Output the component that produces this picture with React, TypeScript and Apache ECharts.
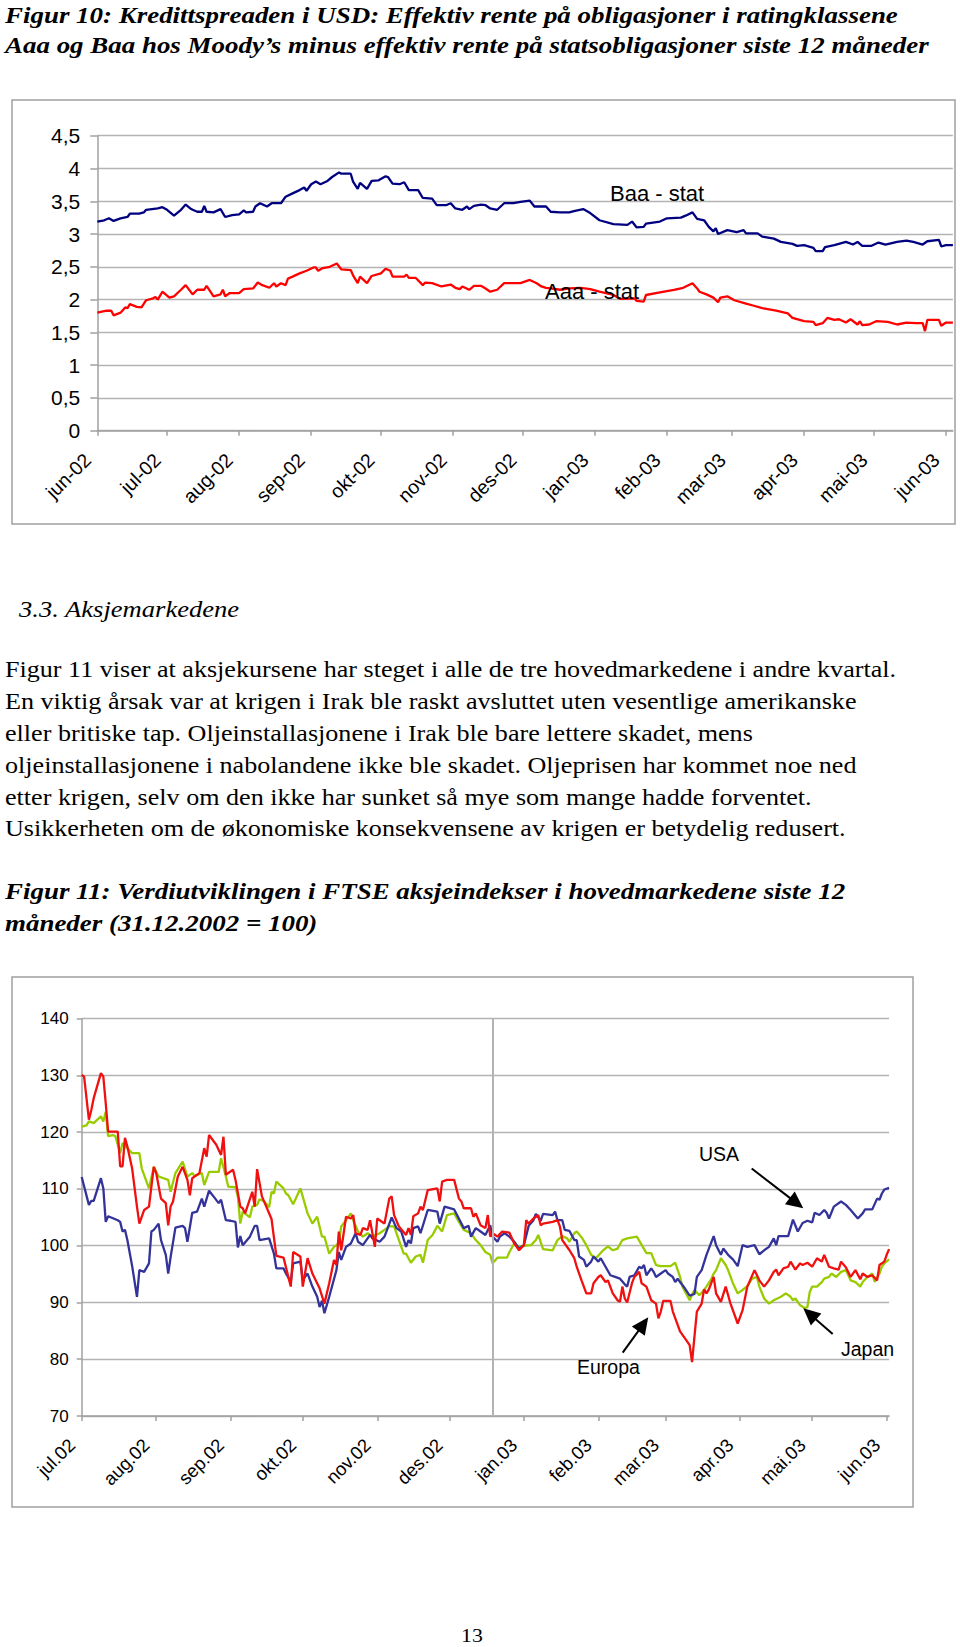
import React, { useEffect, useRef } from "react";
import * as echarts from "echarts";

// ---------- Figur 10: credit spreads (days since 2002-06-01, percentage points) ----------
const C1_START = "2002-06-01";
const C1_END = "2003-06-04";
const C1_MONTH_LABELS = ["jun-02", "jul-02", "aug-02", "sep-02", "okt-02", "nov-02", "des-02", "jan-03", "feb-03", "mar-03", "apr-03", "mai-03", "jun-03"];

const BAA_STAT: [number, number][] = [
  [0, 3.19], [3, 3.21], [5, 3.24], [7, 3.2], [10, 3.24], [13, 3.26], [14, 3.31], [18, 3.31], [20, 3.33], [21, 3.37], [26, 3.39], [28, 3.41], [30, 3.37], [33, 3.28], [36, 3.37], [38, 3.45], [40, 3.39], [41, 3.37], [43, 3.34], [45, 3.34], [46, 3.43], [47, 3.34], [50, 3.33], [53, 3.38], [55, 3.26], [58, 3.29], [61, 3.3], [63, 3.36], [64, 3.33], [67, 3.34], [68, 3.42], [70, 3.47], [73, 3.42], [75, 3.47], [79, 3.47], [81, 3.57], [84, 3.62], [87, 3.67], [89, 3.71], [90, 3.66], [92, 3.76], [94, 3.8], [96, 3.76], [99, 3.81], [101, 3.87], [104, 3.94], [105, 3.92], [109, 3.92], [110, 3.8], [112, 3.69], [113, 3.78], [116, 3.69], [118, 3.81], [121, 3.82], [124, 3.88], [125, 3.87], [127, 3.77], [130, 3.76], [132, 3.79], [134, 3.67], [138, 3.67], [140, 3.55], [144, 3.54], [146, 3.44], [150, 3.44], [152, 3.47], [154, 3.39], [157, 3.37], [159, 3.42], [160, 3.38], [162, 3.43], [165, 3.45], [167, 3.44], [169, 3.39], [172, 3.37], [175, 3.47], [179, 3.47], [182, 3.49], [186, 3.51], [188, 3.42], [193, 3.42], [195, 3.34], [199, 3.33], [203, 3.33], [205, 3.35], [209, 3.38], [212, 3.32], [216, 3.21], [222, 3.15], [228, 3.14], [230, 3.19], [232, 3.1], [235, 3.11], [236, 3.16], [242, 3.19], [245, 3.24], [251, 3.25], [253, 3.28], [256, 3.33], [258, 3.23], [261, 3.21], [263, 3.11], [265, 3.04], [266, 3.09], [267, 3.0], [271, 3.06], [275, 3.03], [278, 3.06], [279, 3.01], [284, 3.01], [286, 2.96], [291, 2.93], [294, 2.88], [299, 2.85], [301, 2.82], [304, 2.83], [308, 2.79], [309, 2.74], [312, 2.74], [313, 2.8], [317, 2.83], [322, 2.88], [325, 2.84], [327, 2.88], [329, 2.82], [333, 2.82], [336, 2.87], [339, 2.84], [344, 2.88], [348, 2.9], [351, 2.88], [355, 2.84], [357, 2.89], [362, 2.91], [363, 2.81], [365, 2.83], [368, 2.83],
];

const AAA_STAT: [number, number][] = [
  [0, 1.8], [4, 1.83], [6, 1.83], [7, 1.76], [10, 1.8], [12, 1.88], [13, 1.87], [14, 1.93], [17, 1.89], [19, 1.88], [21, 1.99], [24, 2.02], [25, 2.04], [26, 2.0], [28, 2.12], [31, 2.03], [33, 2.05], [36, 2.15], [38, 2.22], [41, 2.08], [43, 2.15], [46, 2.15], [47, 2.21], [50, 2.05], [53, 2.08], [54, 2.15], [55, 2.05], [57, 2.1], [61, 2.1], [63, 2.16], [67, 2.17], [69, 2.26], [71, 2.22], [74, 2.18], [76, 2.25], [77, 2.2], [79, 2.25], [81, 2.22], [82, 2.32], [84, 2.35], [87, 2.4], [90, 2.44], [93, 2.49], [94, 2.49], [95, 2.44], [97, 2.48], [100, 2.5], [103, 2.55], [105, 2.46], [109, 2.45], [110, 2.37], [112, 2.25], [113, 2.35], [116, 2.25], [118, 2.36], [122, 2.4], [124, 2.47], [126, 2.44], [127, 2.35], [132, 2.35], [133, 2.38], [134, 2.33], [137, 2.33], [140, 2.22], [141, 2.26], [144, 2.25], [148, 2.2], [152, 2.23], [154, 2.18], [156, 2.16], [157, 2.2], [160, 2.15], [162, 2.21], [165, 2.21], [167, 2.17], [169, 2.12], [172, 2.15], [175, 2.25], [179, 2.25], [182, 2.25], [186, 2.3], [189, 2.25], [191, 2.2], [193, 2.18], [195, 2.17], [199, 2.15], [203, 2.17], [208, 2.18], [212, 2.16], [216, 2.12], [222, 2.07], [225, 2.01], [231, 2.02], [232, 1.98], [235, 1.97], [236, 2.07], [242, 2.11], [248, 2.15], [252, 2.18], [256, 2.25], [258, 2.17], [259, 2.12], [262, 2.08], [265, 2.03], [267, 1.96], [268, 2.03], [271, 2.05], [274, 1.99], [279, 1.94], [282, 1.91], [286, 1.87], [292, 1.83], [297, 1.79], [299, 1.72], [304, 1.67], [308, 1.66], [309, 1.61], [312, 1.64], [314, 1.72], [317, 1.69], [319, 1.7], [322, 1.65], [324, 1.7], [327, 1.62], [328, 1.67], [329, 1.61], [332, 1.62], [335, 1.67], [340, 1.66], [344, 1.62], [348, 1.65], [352, 1.64], [355, 1.64], [356, 1.52], [357, 1.69], [362, 1.69], [363, 1.6], [365, 1.65], [368, 1.65],
];

// ---------- Figur 11: FTSE indices (days since 2002-07-01, 31.12.2002 = 100) ----------
const C2_START = "2002-07-01";
const C2_END = "2003-06-02";
const C2_MONTH_LABELS = ["jul.02", "aug.02", "sep.02", "okt.02", "nov.02", "des.02", "jan.03", "feb.03", "mar.03", "apr.03", "mai.03", "jun.03"];
const C2_REFERENCE_LINE_DATE = "2002-12-19";

const USA: [number, number][] = [
  [0, 112.1], [3, 107.2], [4, 107.9], [5, 107.9], [8, 111.9], [9, 110.1], [10, 104.2], [11, 105.2], [15, 104.5], [16, 104.2], [17, 102.5], [18, 102.8], [19, 101.0], [21, 96.4], [23, 91.0], [24, 95.7], [26, 95.4], [28, 96.9], [29, 102.5], [30, 102.8], [32, 103.9], [33, 101.0], [35, 98.4], [36, 95.1], [37, 98.0], [39, 103.2], [42, 103.5], [43, 103.1], [44, 100.7], [46, 105.8], [48, 106.0], [50, 108.3], [51, 106.9], [53, 109.7], [55, 108.6], [57, 107.5], [58, 108.1], [60, 104.5], [62, 104.4], [64, 104.2], [65, 99.7], [66, 101.7], [67, 100.1], [70, 101.6], [72, 103.5], [73, 103.5], [74, 101.0], [78, 101.3], [80, 98.6], [81, 96.0], [84, 96.0], [85, 95.1], [87, 93.6], [88, 96.9], [91, 97.2], [92, 94.0], [94, 95.1], [96, 92.8], [98, 91.0], [99, 89.2], [100, 90.3], [101, 88.1], [103, 91.0], [106, 95.7], [107, 98.9], [108, 97.5], [110, 99.8], [112, 100.4], [114, 102.2], [115, 100.7], [117, 100.1], [120, 101.9], [121, 101.3], [124, 100.7], [126, 101.6], [127, 102.7], [129, 105.0], [131, 103.1], [133, 102.5], [135, 99.8], [136, 101.0], [137, 100.4], [138, 103.1], [140, 103.4], [141, 102.2], [144, 106.3], [148, 106.0], [149, 103.9], [151, 106.9], [155, 106.4], [159, 103.1], [161, 103.5], [162, 101.6], [164, 103.1], [166, 102.5], [168, 101.9], [170, 103.6], [171, 101.6], [173, 100.7], [174, 101.6], [176, 102.2], [178, 101.6], [180, 100.7], [182, 99.5], [184, 100.1], [186, 103.5], [188, 104.5], [189, 105.6], [191, 104.4], [192, 105.6], [196, 105.4], [197, 106.0], [198, 104.5], [200, 104.5], [201, 102.8], [203, 102.6], [205, 101.0], [206, 101.0], [207, 98.1], [209, 97.5], [210, 96.3], [212, 97.2], [213, 98.1], [215, 97.2], [216, 97.8], [218, 96.3], [220, 94.8], [222, 94.5], [224, 94.2], [226, 93.2], [227, 92.8], [228, 94.5], [230, 94.8], [232, 96.3], [233, 96.0], [234, 96.6], [235, 94.8], [237, 96.0], [238, 95.4], [239, 94.5], [241, 95.1], [243, 95.7], [244, 95.1], [246, 94.5], [247, 93.6], [248, 94.2], [249, 93.6], [251, 92.5], [253, 91.2], [255, 91.5], [256, 94.5], [258, 95.7], [260, 98.4], [261, 99.5], [263, 101.7], [264, 100.1], [266, 98.4], [267, 99.5], [269, 98.4], [271, 97.6], [273, 96.4], [275, 100.1], [277, 99.8], [280, 100.1], [282, 98.5], [284, 99.2], [286, 99.8], [288, 101.3], [289, 100.1], [290, 101.7], [294, 101.7], [296, 104.6], [298, 102.5], [300, 104.0], [302, 104.4], [304, 104.1], [305, 105.8], [307, 105.4], [309, 106.3], [310, 105.8], [311, 104.8], [313, 106.9], [316, 107.8], [318, 107.2], [320, 106.3], [323, 104.8], [325, 105.7], [326, 106.4], [329, 106.4], [331, 108.3], [332, 108.1], [333, 109.2], [334, 109.9], [336, 110.2],
];

const EUROPA: [number, number][] = [
  [0, 130.1], [1, 129.8], [3, 122.2], [4, 123.9], [5, 126.0], [8, 130.4], [9, 129.8], [10, 125.1], [11, 120.1], [15, 120.1], [16, 114.0], [17, 114.0], [18, 119.0], [19, 117.5], [21, 113.6], [23, 106.9], [24, 103.9], [26, 106.3], [28, 106.9], [30, 113.9], [31, 112.8], [33, 108.3], [35, 107.5], [36, 103.6], [37, 106.9], [38, 107.8], [40, 112.2], [42, 113.9], [44, 111.6], [45, 108.9], [46, 111.9], [49, 112.8], [51, 117.2], [52, 115.7], [53, 119.5], [56, 117.8], [58, 116.0], [59, 119.2], [60, 112.5], [63, 113.4], [64, 111.6], [66, 106.9], [67, 106.6], [68, 105.7], [71, 109.5], [72, 106.9], [73, 113.5], [75, 108.7], [79, 104.7], [81, 98.2], [84, 97.9], [87, 92.8], [88, 98.9], [91, 98.1], [92, 92.8], [94, 97.8], [96, 95.1], [99, 92.5], [101, 89.8], [103, 93.4], [105, 97.5], [106, 96.6], [107, 102.5], [108, 99.2], [110, 105.1], [112, 104.8], [113, 105.4], [114, 102.2], [116, 101.9], [117, 103.1], [119, 102.8], [120, 104.5], [122, 99.8], [123, 104.8], [126, 103.9], [128, 108.3], [129, 108.7], [130, 105.4], [132, 103.4], [135, 101.9], [136, 103.1], [137, 101.9], [138, 105.2], [140, 105.7], [141, 106.9], [142, 106.3], [144, 109.8], [148, 110.1], [149, 107.8], [150, 111.3], [152, 111.6], [155, 111.6], [157, 108.3], [158, 107.8], [159, 106.6], [162, 106.6], [163, 105.1], [164, 105.7], [166, 103.6], [168, 103.1], [169, 105.4], [170, 101.6], [171, 102.2], [173, 101.6], [175, 102.5], [178, 102.3], [180, 100.4], [182, 99.2], [184, 100.1], [185, 104.5], [186, 103.9], [188, 104.8], [190, 105.4], [191, 103.6], [192, 103.9], [196, 104.2], [198, 104.5], [199, 103.4], [200, 101.0], [203, 99.2], [205, 97.8], [206, 96.3], [208, 93.9], [210, 91.6], [212, 91.6], [213, 93.4], [215, 94.5], [216, 94.8], [218, 93.6], [219, 93.9], [221, 91.6], [223, 90.4], [224, 90.1], [225, 92.8], [226, 90.7], [227, 90.0], [229, 93.4], [230, 94.5], [232, 95.4], [233, 93.4], [235, 92.8], [237, 90.4], [239, 89.8], [240, 87.2], [241, 88.4], [242, 90.3], [245, 90.3], [246, 88.4], [249, 84.9], [252, 83.1], [253, 82.5], [254, 79.5], [255, 84.0], [256, 88.4], [258, 89.8], [259, 92.3], [260, 91.6], [261, 92.3], [263, 94.5], [264, 91.6], [266, 90.1], [268, 92.8], [270, 89.8], [273, 86.3], [275, 88.6], [277, 92.8], [280, 95.7], [282, 93.9], [284, 92.8], [286, 93.9], [288, 95.4], [289, 95.8], [290, 94.8], [292, 96.0], [294, 96.3], [295, 97.2], [297, 95.8], [299, 96.9], [300, 96.6], [302, 97.0], [304, 96.3], [306, 97.8], [308, 97.2], [309, 98.4], [311, 96.3], [313, 96.0], [315, 95.8], [316, 97.2], [318, 96.2], [320, 94.5], [322, 95.7], [324, 94.1], [325, 95.1], [327, 94.5], [329, 94.8], [331, 93.9], [332, 96.6], [334, 97.2], [335, 98.4], [336, 99.4],
];

const JAPAN: [number, number][] = [
  [0, 121.0], [2, 121.2], [3, 121.9], [5, 121.6], [8, 122.8], [9, 121.9], [10, 123.6], [11, 119.3], [13, 119.5], [14, 119.3], [16, 116.3], [17, 118.1], [19, 117.2], [21, 116.3], [24, 116.3], [25, 113.6], [28, 110.1], [30, 113.9], [32, 112.2], [36, 111.6], [37, 109.5], [39, 112.8], [42, 114.8], [44, 112.2], [46, 112.8], [47, 112.3], [50, 112.8], [51, 110.7], [53, 113.0], [57, 113.0], [58, 115.4], [60, 112.2], [61, 110.4], [64, 110.3], [65, 108.6], [66, 103.9], [67, 106.0], [70, 105.0], [71, 106.9], [73, 107.2], [74, 108.2], [76, 107.8], [78, 106.8], [79, 109.5], [80, 109.2], [81, 111.3], [84, 110.1], [85, 109.2], [86, 108.9], [88, 107.3], [91, 110.1], [94, 105.7], [96, 103.9], [98, 105.1], [100, 101.6], [101, 101.6], [103, 98.6], [105, 99.8], [107, 100.4], [108, 103.4], [110, 104.5], [112, 105.7], [113, 104.5], [115, 102.5], [117, 101.6], [119, 102.2], [121, 101.6], [124, 102.2], [128, 103.4], [130, 103.4], [134, 98.6], [135, 98.6], [137, 97.0], [139, 98.1], [141, 98.4], [142, 97.0], [144, 101.0], [146, 101.9], [148, 103.5], [150, 102.5], [152, 105.4], [155, 105.7], [157, 104.2], [159, 102.8], [162, 102.2], [164, 101.0], [166, 100.1], [168, 98.9], [170, 98.4], [171, 96.9], [173, 97.9], [175, 97.9], [177, 97.9], [178, 98.9], [180, 100.4], [182, 99.8], [184, 100.0], [187, 100.1], [189, 101.0], [190, 101.9], [192, 99.4], [196, 99.2], [198, 101.0], [200, 101.7], [202, 101.3], [203, 100.7], [205, 102.2], [206, 102.5], [208, 101.5], [210, 100.1], [212, 98.4], [214, 97.8], [217, 99.2], [219, 99.9], [221, 99.2], [223, 99.5], [225, 101.0], [227, 101.3], [231, 101.6], [232, 100.9], [235, 98.7], [237, 98.7], [239, 96.6], [241, 96.4], [245, 96.4], [247, 97.0], [249, 94.5], [250, 92.8], [253, 90.4], [254, 91.3], [255, 92.2], [257, 91.3], [258, 91.7], [260, 92.8], [262, 94.1], [263, 95.1], [264, 95.7], [266, 97.8], [268, 96.6], [269, 95.7], [271, 93.4], [273, 91.6], [275, 92.2], [277, 92.9], [279, 94.2], [281, 94.5], [282, 92.8], [284, 90.7], [286, 89.8], [288, 90.4], [291, 91.0], [293, 91.6], [295, 91.0], [296, 90.4], [297, 90.7], [299, 89.5], [301, 89.0], [302, 89.2], [303, 91.9], [304, 92.8], [306, 92.8], [308, 93.6], [309, 94.2], [311, 94.5], [312, 95.1], [314, 94.5], [316, 95.4], [318, 95.7], [320, 93.9], [322, 93.6], [324, 92.8], [325, 93.6], [327, 94.5], [329, 95.1], [330, 93.6], [332, 95.1], [333, 96.3], [334, 96.9], [336, 97.6],
];

// ---------- page texts ----------
const TITLE_10 = [
  "Figur 10: Kredittspreaden i USD: Effektiv rente på obligasjoner i ratingklassene",
  "Aaa og Baa hos Moody’s minus effektiv rente på statsobligasjoner siste 12 måneder",
];
const SECTION = "3.3. Aksjemarkedene";
const BODY = [
  "Figur 11 viser at aksjekursene har steget i alle de tre hovedmarkedene i andre kvartal.",
  "En viktig årsak var at krigen i Irak ble raskt avsluttet uten vesentlige amerikanske",
  "eller britiske tap. Oljeinstallasjonene i Irak ble bare lettere skadet, mens",
  "oljeinstallasjonene i nabolandene ikke ble skadet. Oljeprisen har kommet noe ned",
  "etter krigen, selv om den ikke har sunket så mye som mange hadde forventet.",
  "Usikkerheten om de økonomiske konsekvensene av krigen er betydelig redusert.",
];
const TITLE_11 = [
  "Figur 11: Verdiutviklingen i FTSE aksjeindekser i hovedmarkedene siste 12",
  "måneder (31.12.2002 = 100)",
];
const PAGE_NO = "13";

const SERIF = "'Liberation Serif', 'Times New Roman', Times, serif";
const SANS = "'Liberation Sans', Arial, Helvetica, sans-serif";
const GRID_COLOR = "#b3b3b3";
const AXIS_COLOR = "#a0a0a0";

function dayList(start: string, end: string): string[] {
  const out: string[] = [];
  const d = new Date(start + "T00:00:00Z");
  const e = new Date(end + "T00:00:00Z");
  while (d.getTime() <= e.getTime()) {
    out.push(d.toISOString().slice(0, 10));
    d.setUTCDate(d.getUTCDate() + 1);
  }
  return out;
}

function monthLabelMap(cats: string[], labels: string[]): Record<string, string> {
  const m: Record<string, string> = {};
  let i = 0;
  cats.forEach((c) => {
    if (c.endsWith("-01") && i < labels.length) m[c] = labels[i++];
  });
  return m;
}

function xAxisFor(gridIndex: number, cats: string[], map: Record<string, string>, fontSize: number, margin: number, shift: number) {
  const show = (_i: number, v: string) => !!map[v];
  return {
    type: "category",
    gridIndex,
    data: cats,
    boundaryGap: false,
    axisLine: { show: true, lineStyle: { color: AXIS_COLOR, width: 1.5 } },
    axisTick: { show: true, length: 5, interval: show, lineStyle: { color: AXIS_COLOR, width: 1.5 } },
    axisLabel: {
      interval: show,
      formatter: (v: string) => map[v] || "",
      rotate: 45,
      fontSize,
      fontFamily: SANS,
      color: "#000",
      margin,
      padding: [0, shift, 0, 0],
    },
    splitLine: { show: false },
  };
}

function yAxisFor(gridIndex: number, min: number, max: number, interval: number, fontSize: number, margin: number, tick: number) {
  return {
    type: "value",
    gridIndex,
    min,
    max,
    interval,
    axisLine: { show: true, lineStyle: { color: AXIS_COLOR, width: 1.5 } },
    axisTick: { show: true, length: tick, lineStyle: { color: AXIS_COLOR, width: 1.5 } },
    splitLine: { show: true, lineStyle: { color: GRID_COLOR, width: 1.3 } },
    axisLabel: {
      formatter: (v: number) => String(v).replace(".", ","),
      fontSize,
      fontFamily: SANS,
      color: "#000",
      margin,
    },
  };
}

function text(
  content: string,
  x: number,
  y: number,
  size: number,
  opts: { bold?: boolean; italic?: boolean; sx?: number; family?: string; align?: string } = {}
) {
  return {
    type: "text",
    x,
    y,
    scaleX: opts.sx ?? 1,
    z: 100,
    silent: true,
    style: {
      text: content,
      x: 0,
      y: 0,
      fill: "#000",
      fontSize: size,
      fontFamily: opts.family ?? SERIF,
      fontWeight: opts.bold ? "bold" : "normal",
      fontStyle: opts.italic ? "italic" : "normal",
      align: opts.align ?? "left",
      verticalAlign: "middle",
    },
  };
}

function arrow(x1: number, y1: number, x2: number, y2: number) {
  const dx = x2 - x1;
  const dy = y2 - y1;
  const len = Math.hypot(dx, dy);
  const ux = dx / len;
  const uy = dy / len;
  const L = 17;
  const W = 8;
  const bx = x2 - ux * L;
  const by = y2 - uy * L;
  return [
    { type: "line", z: 100, silent: true, shape: { x1, y1, x2: bx + ux * 2, y2: by + uy * 2 }, style: { stroke: "#000", lineWidth: 2 } },
    {
      type: "polygon",
      z: 100,
      silent: true,
      shape: { points: [[x2, y2], [bx - uy * W, by + ux * W], [bx + uy * W, by - ux * W]] },
      style: { fill: "#000" },
    },
  ];
}

export default function App() {
  const ref = useRef<HTMLDivElement>(null);

  useEffect(() => {
    if (!ref.current) return;
    const chart = echarts.init(ref.current, null, { renderer: "svg", width: 960, height: 1647 });

    const cats1 = dayList(C1_START, C1_END);
    const cats2 = dayList(C2_START, C2_END);
    const map1 = monthLabelMap(cats1, C1_MONTH_LABELS);
    const map2 = monthLabelMap(cats2, C2_MONTH_LABELS);

    const graphic: any[] = [
      // chart frames
      { type: "rect", z: 0, silent: true, shape: { x: 12, y: 100, width: 943, height: 424 }, style: { fill: "none", stroke: "#a0a0a0", lineWidth: 1.5 } },
      { type: "rect", z: 0, silent: true, shape: { x: 12, y: 977, width: 901, height: 530 }, style: { fill: "none", stroke: "#a0a0a0", lineWidth: 1.5 } },
      // page texts
      text(TITLE_10[0], 5, 15, 23.5, { bold: true, italic: true, sx: 1.147 }),
      text(TITLE_10[1], 5, 45, 23.5, { bold: true, italic: true, sx: 1.147 }),
      text(SECTION, 19, 609, 23.2, { italic: true, sx: 1.146 }),
      ...BODY.map((line, i) => text(line, 5, 669 + i * 31.9, 22.8, { sx: 1.145 })),
      text(TITLE_11[0], 5, 891, 23.5, { bold: true, italic: true, sx: 1.147 }),
      text(TITLE_11[1], 5, 923, 23.5, { bold: true, italic: true, sx: 1.147 }),
      text(PAGE_NO, 472, 1636, 19, { sx: 1.15, align: "center" }),
      // chart annotations
      text("Baa - stat", 610, 193, 22, { family: SANS }),
      text("Aaa - stat", 545, 291, 22, { family: SANS }),
      text("USA", 699, 1154, 19.5, { family: SANS }),
      text("Europa", 577, 1367, 19.5, { family: SANS }),
      text("Japan", 841, 1349, 19.5, { family: SANS }),
      ...arrow(751.7, 1168.5, 803.3, 1208.3),
      ...arrow(622.7, 1352.7, 648.3, 1317.3),
      ...arrow(832.7, 1334, 803.3, 1308.3),
    ];

    const lineSeries = (name: string, xi: number, data: [number, number][], color: string, extra: any = {}) => ({
      name,
      type: "line",
      xAxisIndex: xi,
      yAxisIndex: xi,
      data,
      showSymbol: false,
      symbol: "none",
      silent: true,
      lineStyle: { color, width: 2.3 },
      itemStyle: { color },
      ...extra,
    });

    const option: any = {
      animation: false,
      backgroundColor: "#ffffff",
      grid: [
        { left: 97.3, top: 135.7, width: 855.6, height: 295 },
        { left: 81.7, top: 1018.7, width: 807.4, height: 397.3 },
      ],
      xAxis: [xAxisFor(0, cats1, map1, 19.5, 16, 14), xAxisFor(1, cats2, map2, 18.5, 16, 14)],
      yAxis: [yAxisFor(0, 0, 4.5, 0.5, 21, 17, 7), yAxisFor(1, 70, 140, 10, 17, 13, 5)],
      series: [
        lineSeries("Baa - stat", 0, BAA_STAT, "#000080"),
        lineSeries("Aaa - stat", 0, AAA_STAT, "#ff0000"),
        lineSeries("Japan", 1, JAPAN, "#99cc00", {
          markLine: {
            silent: true,
            symbol: ["none", "none"],
            label: { show: false },
            lineStyle: { color: "#b3b3b3", width: 2, type: "solid" },
            data: [{ xAxis: C2_REFERENCE_LINE_DATE }],
          },
        }),
        lineSeries("USA", 1, USA, "#333399"),
        lineSeries("Europa", 1, EUROPA, "#f01010"),
      ],
      graphic,
    };

    chart.setOption(option);
    return () => chart.dispose();
  }, []);

  return <div ref={ref} style={{ position: "absolute", left: 0, top: 0, width: 960, height: 1647, background: "#fff" }} />;
}
